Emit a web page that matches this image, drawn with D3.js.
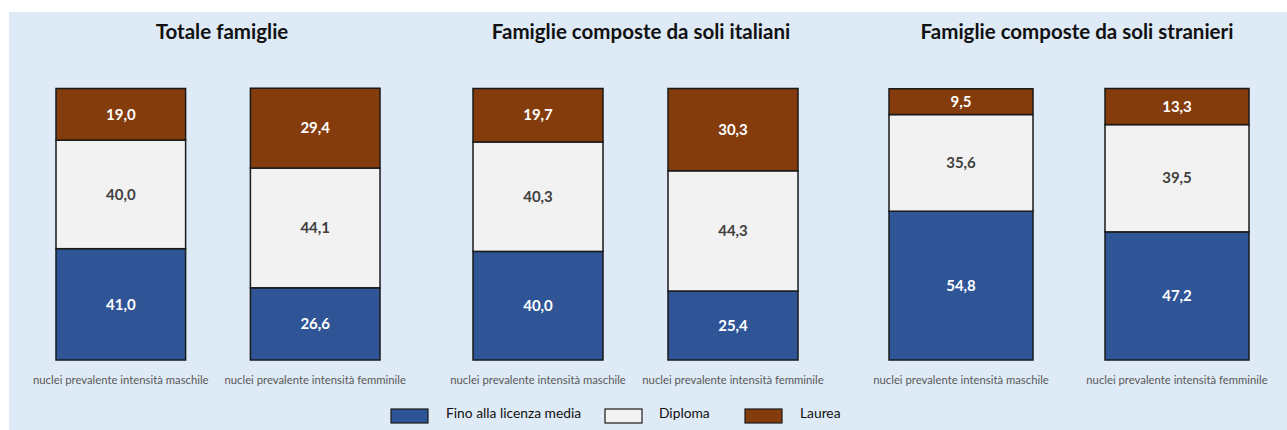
<!doctype html>
<html>
<head>
<meta charset="utf-8">
<script src="https://cdnjs.cloudflare.com/ajax/libs/d3/7.8.5/d3.min.js"></script>
<style>
body { margin: 0; background: #fff; }
svg { display: block; font-family: Lato, "Open Sans", sans-serif; }
.title { font-weight: bold; font-size: 20.5px; fill: #111; text-anchor: middle; }
.cat { font-size: 11.3px; fill: #595959; text-anchor: middle; }
.val { font-weight: bold; font-size: 15px; text-anchor: middle; }
.leg { font-size: 13.8px; fill: #111; }
</style>
</head>
<body>
<svg id="chart" width="1287" height="430"></svg>
<script>
var panels = ["Totale famiglie", "Famiglie composte da soli italiani", "Famiglie composte da soli stranieri"];
var categories = ["nuclei prevalente intensità maschile", "nuclei prevalente intensità femminile"];
var series = ["Fino alla licenza media", "Diploma", "Laurea"];

// values per panel: [maschile, femminile]
var finoLicenza = [[41.0, 26.6], [40.0, 25.4], [54.8, 47.2]];
var diploma     = [[40.0, 44.1], [40.3, 44.3], [35.6, 39.5]];
var laurea      = [[19.0, 29.4], [19.7, 30.3], [9.5, 13.3]];

var colors = ["#2F5597", "#F2F2F2", "#843C0C"];
var textColors = ["#ffffff", "#404040", "#ffffff"];

var svg = d3.select("#chart");

svg.append("rect")
  .attr("x", 9).attr("y", 12)
  .attr("width", 1287 - 9).attr("height", 430 - 12)
  .attr("fill", "#DEEAF6");

// panel geometry: outer edges of the two bars, title centre
var panelBox = [
  {x0: 56, x1: 380, title: 222},
  {x0: 473, x1: 798, title: 641},
  {x0: 889, x1: 1249, title: 1077}
];

var y = d3.scaleLinear().domain([0, 100]).range([360, 88.5]);

var stack = d3.stack().keys([0, 1, 2]);

panels.forEach(function(name, p) {
  var box = panelBox[p];
  var x = d3.scaleBand().domain(categories).range([box.x0, box.x1]).paddingInner(1 / 3).paddingOuter(0);

  var rows = categories.map(function(c, i) {
    return {cat: c, 0: finoLicenza[p][i], 1: diploma[p][i], 2: laurea[p][i]};
  });
  var layers = stack(rows);

  var g = svg.append("g");

  g.append("text").attr("class", "title")
    .attr("x", box.title).attr("y", 39)
    .text(name);

  layers.forEach(function(layer, k) {
    g.selectAll(null).data(layer).enter().append("rect")
      .attr("x", d => x(d.data.cat))
      .attr("width", x.bandwidth())
      .attr("y", d => y(d[1]))
      .attr("height", d => y(d[0]) - y(d[1]))
      .attr("fill", colors[k])
      .attr("stroke", "#1a1a1a")
      .attr("stroke-width", 1.5);

    g.selectAll(null).data(layer).enter().append("text")
      .attr("class", "val")
      .attr("x", d => x(d.data.cat) + x.bandwidth() / 2)
      .attr("y", d => (y(d[0]) + y(d[1])) / 2)
      .attr("dy", "0.35em")
      .attr("fill", textColors[k])
      .text(d => d3.format(".1f")(d.data[k]).replace(".", ","));
  });

  g.selectAll(null).data(categories).enter().append("text")
    .attr("class", "cat")
    .attr("x", d => x(d) + x.bandwidth() / 2)
    .attr("y", 384)
    .text(d => d);
});

// legend
var legX = [391, 605, 745];
var leg = svg.append("g").selectAll("g").data(series).enter().append("g")
  .attr("transform", (d, i) => "translate(" + legX[i] + ",409)");
leg.append("rect")
  .attr("width", 37).attr("height", 14)
  .attr("fill", (d, i) => colors[i])
  .attr("stroke", "#1a1a1a").attr("stroke-width", 1.2);
leg.append("text").attr("class", "leg")
  .attr("x", (d, i) => i === 0 ? 55 : i === 1 ? 54 : 55)
  .attr("y", 4).attr("dy", "0.35em")
  .text(d => d);
</script>
</body>
</html>
